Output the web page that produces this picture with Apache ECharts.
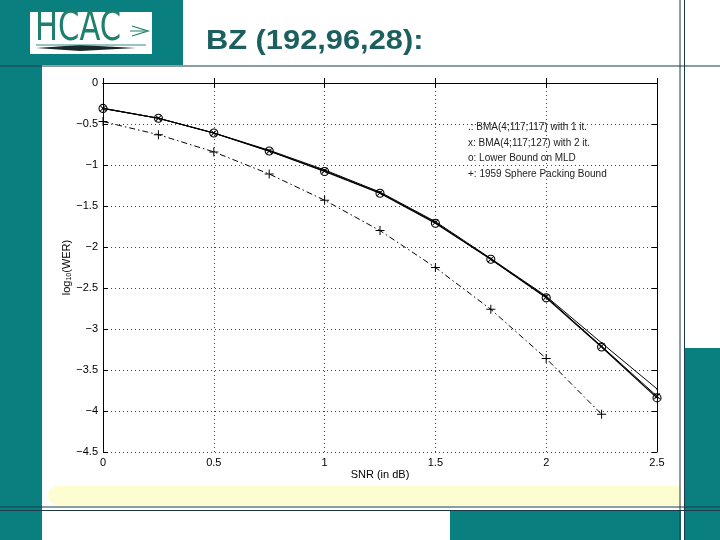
<!DOCTYPE html>
<html><head><meta charset="utf-8">
<script src="https://cdn.jsdelivr.net/npm/echarts@6/dist/echarts.min.js"></script>
<style>html,body{margin:0;padding:0;background:#fff}#c{width:720px;height:540px}</style>
</head><body><div id="c"></div>
<script>
const snr = [0, 0.25, 0.5, 0.75, 1, 1.25, 1.5, 1.75, 2, 2.25, 2.5];
const bma1 = [-0.31, -0.43, -0.61, -0.82, -1.06, -1.33, -1.69, -2.14, -2.60, -3.17, -3.73];
const bma2 = [-0.31, -0.43, -0.61, -0.83, -1.07, -1.34, -1.70, -2.15, -2.61, -3.21, -3.82];
const mld = [-0.31, -0.43, -0.61, -0.83, -1.08, -1.345, -1.71, -2.15, -2.62, -3.22, -3.84];
const sphere = [-0.47, -0.63, -0.84, -1.11, -1.43, -1.80, -2.25, -2.76, -3.36, -4.04];
const names = ['.: BMA(4;117;117) with 1 it.', 'x: BMA(4;117;127) with 2 it.', 'o: Lower Bound on MLD', '+: 1959 Sphere Packing Bound'];
const title = 'BZ (192,96,28):';

const pair = (ys) => ys.map((v, i) => [snr[i], v]);
const TEAL = '#0a7f7f';
const LINEC = '#1d3a4a';
const plus = 'path://M4.45,0h1.1v10h-1.1zM0,4.45h10v1.1h-10z';
const fmt = v => String(v).replace('-', '\u2212');

const chart = echarts.init(document.getElementById('c'), null, {renderer: 'canvas'});
const lab = {color: '#000', fontSize: 11, fontFamily: 'Liberation Sans, Arial, sans-serif'};
chart.setOption({
  animation: false,
  backgroundColor: '#fff',
  grid: {left: 103, right: 63, top: 83, bottom: 88},
  legend: {
    data: names.map(n => ({name: n, icon: 'none'})),
    orient: 'vertical', left: 458, top: 117, itemWidth: 0, itemHeight: 11, itemGap: 5,
    textStyle: {fontSize: 10, color: '#222', fontFamily: 'Liberation Sans, Arial, sans-serif'},
    selectedMode: false
  },
  xAxis: [{
    type: 'value', min: 0, max: 2.5, interval: 0.5,
    name: 'SNR (in dB)', nameLocation: 'middle', nameGap: 17, nameMoveOverlap: false,
    nameTextStyle: lab,
    axisLine: {show: true, lineStyle: {color: '#000', width: 1}},
    axisTick: {show: true, inside: true, length: 5, lineStyle: {color: '#000'}},
    axisLabel: Object.assign({margin: 5}, lab),
    splitLine: {show: true, lineStyle: {color: '#444', type: [1, 3], width: 1}}
  }, {
    type: 'value', min: 0, max: 2.5, interval: 0.5, position: 'top',
    axisLine: {show: true, onZero: false, lineStyle: {color: '#000', width: 1}},
    axisTick: {show: true, inside: true, length: 5, lineStyle: {color: '#000'}},
    axisLabel: {show: false}, splitLine: {show: false}
  }],
  yAxis: [{
    type: 'value', min: -4.5, max: 0, interval: 0.5,
    name: 'log{s|10}(WER)', nameLocation: 'middle', nameGap: 30, nameRotate: 90, nameMoveOverlap: false,
    nameTextStyle: Object.assign({rich: {s: {fontSize: 7, verticalAlign: 'bottom', padding: [6, 0, 0, 0], color: '#000'}}}, lab),
    axisLine: {show: true, onZero: false, lineStyle: {color: '#000', width: 1}},
    axisTick: {show: true, inside: true, length: 5, lineStyle: {color: '#000'}},
    axisLabel: Object.assign({margin: 5, formatter: fmt}, lab),
    splitLine: {show: true, lineStyle: {color: '#444', type: [1, 3], width: 1}}
  }, {
    type: 'value', min: -4.5, max: 0, interval: 0.5, position: 'right',
    axisLine: {show: true, onZero: false, lineStyle: {color: '#000', width: 1}},
    axisTick: {show: true, inside: true, length: 5, lineStyle: {color: '#000'}},
    axisLabel: {show: false}, splitLine: {show: false}
  }],
  series: [
    {name: names[0], type: 'line', data: pair(bma1), symbol: 'circle', symbolSize: 2,
     itemStyle: {color: '#000'}, lineStyle: {color: '#000', width: 1}, z: 3},
    {name: names[1], type: 'line', data: pair(bma2), symbol: plus, symbolSize: 8, symbolRotate: 45,
     itemStyle: {color: '#000'}, lineStyle: {color: '#000', width: 1}, z: 5},
    {name: names[2], type: 'line', data: pair(mld), symbol: 'circle', symbolSize: 8,
     itemStyle: {color: 'rgba(0,0,0,0)', borderColor: '#000', borderWidth: 1.1}, lineStyle: {color: '#000', width: 1.2}, z: 4},
    {name: names[3], type: 'line', data: pair(sphere), symbol: plus, symbolSize: 9,
     itemStyle: {color: '#000'}, lineStyle: {color: '#000', width: 1, type: [6, 3, 1.5, 3]}, z: 2}
  ],
  graphic: [
    {type: 'rect', z: -10, shape: {x: 48, y: 486, width: 640, height: 19, r: [9, 0, 0, 9]}, style: {fill: '#fefdd2'}},
    {type: 'rect', z: 10, shape: {x: 0, y: 0, width: 42, height: 540}, style: {fill: TEAL}},
    {type: 'rect', z: 10, shape: {x: 0, y: 0, width: 183, height: 65}, style: {fill: TEAL}},
    {type: 'rect', z: 10, shape: {x: 685, y: 348, width: 35, height: 192}, style: {fill: TEAL}},
    {type: 'rect', z: 10, shape: {x: 450, y: 511, width: 270, height: 29}, style: {fill: TEAL}},
    {type: 'rect', z: 10, shape: {x: 681, y: 0, width: 3, height: 540}, style: {fill: '#fff'}},
    {type: 'rect', z: 11, shape: {x: 30, y: 12, width: 122, height: 42}, style: {fill: '#fff'}},
    {type: 'text', z: 12, x: 35, y: 10, scaleX: 0.85, style: {text: 'HCAC', fontSize: 40, fontFamily: 'DejaVu Sans Condensed, sans-serif', fill: '#1f7f6e'}},
    {type: 'polyline', z: 12, shape: {points: [[132, 26], [148, 31], [132, 36]]}, style: {stroke: '#1f7f6e', lineWidth: 1.3, fill: null}},
    {type: 'line', z: 12, shape: {x1: 130, y1: 31, x2: 146, y2: 31}, style: {stroke: '#1f7f6e', lineWidth: 1}},
    {type: 'polygon', z: 12, shape: {points: [[36, 48], [80, 45], [136, 48], [80, 51]]}, style: {fill: '#1a2a2a'}},
    {type: 'line', z: 12, shape: {x1: 36, y1: 45, x2: 146, y2: 45}, style: {stroke: '#2a8a8a', lineWidth: 1}},
    {type: 'text', z: 12, x: 206, y: 27, scaleX: 1.1, style: {text: title, fontSize: 28, fontWeight: 'bold', fontFamily: 'Liberation Sans, Arial, sans-serif', fill: '#1b5f5f'}},
    {type: 'line', z: 13, shape: {x1: 0, y1: 66, x2: 720, y2: 66}, style: {stroke: LINEC, lineWidth: 1.2}},
    {type: 'line', z: 13, shape: {x1: 0, y1: 507, x2: 720, y2: 507}, style: {stroke: LINEC, lineWidth: 1}},
    {type: 'line', z: 13, shape: {x1: 0, y1: 510.5, x2: 720, y2: 510.5}, style: {stroke: LINEC, lineWidth: 1}},
    {type: 'line', z: 13, shape: {x1: 680, y1: 0, x2: 680, y2: 540}, style: {stroke: LINEC, lineWidth: 1}},
    {type: 'line', z: 13, shape: {x1: 684.5, y1: 0, x2: 684.5, y2: 540}, style: {stroke: LINEC, lineWidth: 1}}
  ]
});
</script></body></html>
